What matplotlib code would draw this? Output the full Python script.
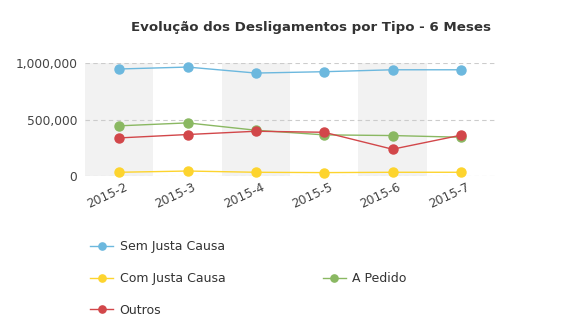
import matplotlib.pyplot as plt
from matplotlib.lines import Line2D
from matplotlib.ticker import FuncFormatter
from matplotlib.transforms import ScaledTranslation

meses = ["2015-2", "2015-3", "2015-4", "2015-5", "2015-6", "2015-7"]
sem_justa = [947000, 964000, 911000, 923000, 940000, 940000]
com_justa = [33000, 44000, 33000, 30000, 33000, 33000]
a_pedido = [444000, 470000, 405000, 364000, 358000, 343000]
outros = [337000, 367000, 396000, 387000, 237000, 361000]

series = [
    ("Sem Justa Causa", sem_justa, "#6cb8de"),
    ("Com Justa Causa", com_justa, "#fdd42e"),
    ("A Pedido", a_pedido, "#8ab862"),
    ("Outros", outros, "#d2474a"),
]

fig = plt.figure(figsize=(5.61, 3.25), dpi=100)
ax = fig.add_axes([85 / 561, 1 - 176 / 325, 410 / 561, 113 / 325])

x = list(range(len(meses)))
# faixas cinza alternadas
for i in x:
    if i % 2 == 0:
        ax.axvspan(i - 0.5, i + 0.5, color="#f2f2f2", zorder=0, lw=0)

handles = {}
for nome, vals, cor in series:
    h, = ax.plot(x, vals, color=cor, lw=1, marker="o", ms=6.5, mec=cor,
                 clip_on=False, zorder=3, label=nome)
    handles[nome] = h

ax.set_xlim(-0.5, len(meses) - 0.5)
ax.set_ylim(0, 1000000)
ax.set_yticks([0, 500000, 1000000])
ax.yaxis.set_major_formatter(FuncFormatter(lambda v, p: "{:,}".format(int(v))))
ax.set_xticks(x)
ax.set_xticklabels(meses, rotation=25, ha="right", rotation_mode="anchor")
ax.grid(axis="y", color="#cccccc", ls=(0, (4, 3)), lw=0.8)
ax.set_axisbelow(True)
for s in ax.spines.values():
    s.set_visible(False)
ax.tick_params(length=0, colors="#444444", labelsize=8.8)
ax.tick_params(axis="y", pad=5.5)
ax.tick_params(axis="x", pad=3)

shift = ScaledTranslation(5 / 100, 0, fig.dpi_scale_trans)
for lbl in ax.get_xticklabels():
    lbl.set_transform(lbl.get_transform() + shift)

fig.text(311 / 561, 1 - 27 / 325, "Evolução dos Desligamentos por Tipo - 6 Meses",
         ha="center", va="center", fontsize=9.6, fontweight="bold", color="#333333")

# legenda: coluna 1 = Sem, Com, Outros; coluna 2 = A Pedido na segunda linha
blank = Line2D([], [], color="none")
leg_handles = [handles["Sem Justa Causa"], handles["Com Justa Causa"], handles["Outros"],
               blank, handles["A Pedido"], blank]
leg_labels = ["Sem Justa Causa", "Com Justa Causa", "Outros", "", "A Pedido", ""]
fig.legend(leg_handles, leg_labels, ncol=2, frameon=False, fontsize=9,
           loc="upper left", bbox_to_anchor=(79 / 561, 1 - 229 / 325),
           labelspacing=1.5, columnspacing=7.8, handlelength=1.85,
           handletextpad=0.5, labelcolor="#333333", markerscale=0.8)

fig.savefig("out.png", dpi=100)
